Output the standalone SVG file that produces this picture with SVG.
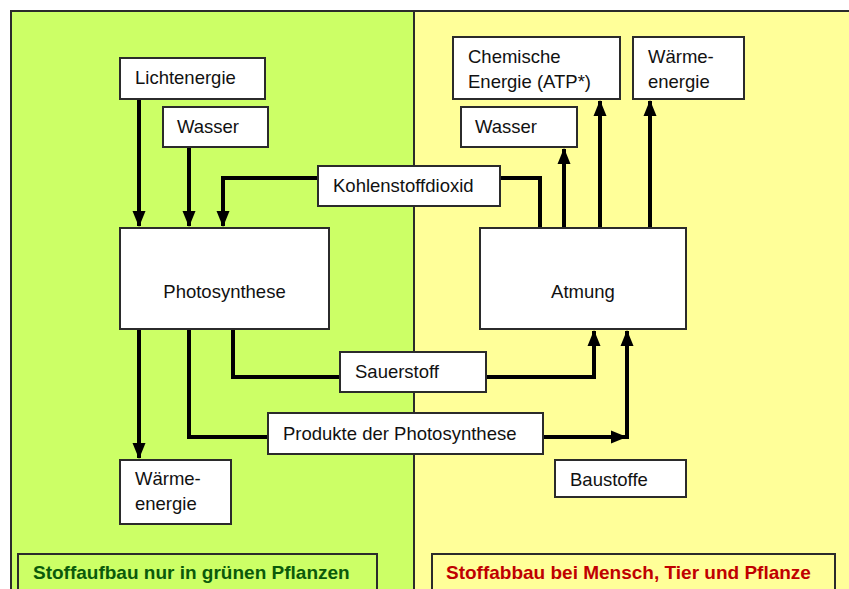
<svg xmlns="http://www.w3.org/2000/svg" width="849" height="589" viewBox="0 0 849 589">
<style>
.box{fill:#ffffff;stroke:#2b2b2b;stroke-width:2}
.t{font-family:"Liberation Sans",Arial,sans-serif;font-size:18.5px;fill:#111}
.c{fill:none;stroke:#000;stroke-width:4}
.lbl{font-family:"Liberation Sans",Arial,sans-serif;font-size:19px;font-weight:bold}
</style>
<defs>
<marker id="ah" markerUnits="userSpaceOnUse" markerWidth="16" markerHeight="16" viewBox="0 0 16 16" refX="15" refY="8" orient="auto">
<path d="M0,1.5 L16,8 L0,14.5 Z" fill="#000"/>
</marker>
</defs>
<rect x="0" y="0" width="849" height="589" fill="#ffffff"/>
<g id="panel-left">
<rect x="11" y="11" width="403" height="590" fill="#ccff66" stroke="#2b2b2b" stroke-width="2"/>
</g>
<g id="panel-right">
<rect x="414" y="11" width="440" height="590" fill="#ffff99" stroke="#2b2b2b" stroke-width="2"/>
</g>
<g id="connectors">
<path class="c" d="M139,99 V226" marker-end="url(#ah)"/>
<path class="c" d="M189,147 V226" marker-end="url(#ah)"/>
<path class="c" d="M318,178 H223 V226" marker-end="url(#ah)"/>
<path class="c" d="M540,228 V178 H500"/>
<path class="c" d="M564,228 V149" marker-end="url(#ah)"/>
<path class="c" d="M600,228 V101" marker-end="url(#ah)"/>
<path class="c" d="M650,228 V101" marker-end="url(#ah)"/>
<path class="c" d="M139,329 V458" marker-end="url(#ah)"/>
<path class="c" d="M189,329 V437 H268"/>
<path class="c" d="M233,329 V377 H340"/>
<path class="c" d="M486,377 H594 V331" marker-end="url(#ah)"/>
<path class="c" d="M543,437 H626" marker-end="url(#ah)"/>
<path class="c" d="M627,439 V331" marker-end="url(#ah)"/>
</g>
<g id="lichtenergie"><rect class="box" x="120" y="58" width="145" height="41"/><text class="t" x="135" y="84">Lichtenergie</text></g>
<g id="wasser-links"><rect class="box" x="163" y="107" width="105" height="40"/><text class="t" x="177" y="133">Wasser</text></g>
<g id="kohlenstoffdioxid"><rect class="box" x="318" y="166" width="182" height="40"/><text class="t" x="333" y="192">Kohlenstoffdioxid</text></g>
<g id="photosynthese"><rect class="box" x="120" y="228" width="209" height="101"/><text class="t" x="224.5" y="298" text-anchor="middle">Photosynthese</text></g>
<g id="waerme-links"><rect class="box" x="120" y="460" width="111" height="64"/><text class="t" x="135" y="485">Wärme-</text><text class="t" x="135" y="510">energie</text></g>
<g id="sauerstoff"><rect class="box" x="340" y="352" width="146" height="40"/><text class="t" x="355" y="378">Sauerstoff</text></g>
<g id="produkte"><rect class="box" x="268" y="413" width="275" height="41"/><text class="t" x="283" y="440">Produkte der Photosynthese</text></g>
<g id="chemische-energie"><rect class="box" x="453" y="37" width="167" height="62"/><text class="t" x="468" y="63">Chemische</text><text class="t" x="468" y="88">Energie (ATP*)</text></g>
<g id="waerme-rechts"><rect class="box" x="633" y="37" width="111" height="62"/><text class="t" x="648" y="63">Wärme-</text><text class="t" x="648" y="88">energie</text></g>
<g id="wasser-rechts"><rect class="box" x="461" y="107" width="116" height="40"/><text class="t" x="475" y="133">Wasser</text></g>
<g id="atmung"><rect class="box" x="480" y="228" width="206" height="101"/><text class="t" x="583" y="298" text-anchor="middle">Atmung</text></g>
<g id="baustoffe"><rect class="box" x="555" y="460" width="131" height="37"/><text class="t" x="570" y="486">Baustoffe</text></g>
<g id="label-links"><rect x="18" y="554" width="359" height="50" fill="#ccff66" stroke="#2b2b2b" stroke-width="2"/><text class="lbl" x="33" y="579" fill="#0a5a0a">Stoffaufbau nur in grünen Pflanzen</text></g>
<g id="label-rechts"><rect x="432" y="554" width="403" height="50" fill="#ffff99" stroke="#2b2b2b" stroke-width="2"/><text class="lbl" x="446" y="579" fill="#c00000">Stoffabbau bei Mensch, Tier und Pflanze</text></g>
</svg>
